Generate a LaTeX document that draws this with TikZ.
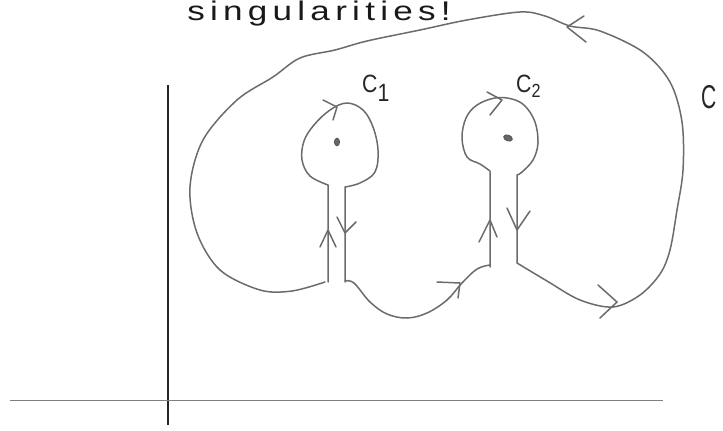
\documentclass[tikz,border=0pt]{standalone}
\usepackage{fontspec}
\setmainfont{Liberation Sans}

\tikzset{
  pencil/.style={draw=black!58, line width=1.5pt, line cap=round, line join=round},
  axisline/.style={draw=black!85, line width=1.4pt},
  baseline/.style={draw=black!50, line width=0.9pt},
  lbl/.style={font=\fontsize{25}{25}\selectfont, text=black!85, inner sep=0pt, xscale=0.85},
  sing/.style={fill=black!60, draw=black!70, line width=0.6pt}
}

\begin{document}
\begin{tikzpicture}[x=1pt, y=-1pt]
\useasboundingbox (0,0) rectangle (723,431);

% axes
\draw[axisline] (168,85) -- (168,425);
\draw[baseline] (10,400) -- (663,400);

% heading at the top edge
\node[anchor=base west, inner sep=0pt, xscale=1.3, text=black!90,
      font=\fontsize{27}{27}\selectfont\addfontfeature{LetterSpace=15}] (title) at (187,20) {singularities!};

% stem ends
\coordinate (ainL) at (328,282);
\coordinate (ainR) at (345,282);
\coordinate (binL) at (490,267);
\coordinate (binR) at (517,263);

% big contour C
\draw[pencil] plot[smooth, tension=0.55] coordinates {
  (517,263) (547,281) (580,300) (613,307) (640,295) (660,274) (670,250)
  (677,210) (683,170) (682,122) (670,82) (643,52) (600,31) (570,26)
  (545,16) (520,12) (467,20) (420,30) (367,41) (335,50) (300,58) (273,77)
  (237,100) (203,140) (190,187) (197,233) (220,270) (260,290) (292,291) (325,282)};

% keyhole round C_1
\draw[pencil] (ainL) -- (328,185)
  plot[smooth, tension=0.6] coordinates {
  (328,185) (310,176) (302,160) (304,141) (314,125) (330,110) (347,103)
  (363,110) (373,127) (378,150) (375,172) (360,183) (345,187)}
  -- (ainR);

% lower arc between the keyholes
\draw[pencil] plot[smooth, tension=0.6] coordinates {
  (345,281) (354,283) (370,302) (387,314) (407,318) (427,313) (447,300)
  (462,283) (477,269) (490,265)};

% keyhole round C_2
\draw[pencil] (binL) -- (490,172)
  plot[smooth, tension=0.6] coordinates {
  (490,171) (480,164) (467,157) (462,138) (466,118) (477,105) (495,98)
  (512,99) (525,106) (535,122) (538,143) (533,160) (522,172) (517,175)}
  -- (binR);

% singular points
\fill[sing] (337,142) ellipse [x radius=2.6, y radius=4];
\fill[sing, rotate around={-20:(508,138)}] (508,138) ellipse [x radius=4.6, y radius=3];

% chevrons on C
\draw[pencil] (584,16) -- (567,27) -- (586,42);
\draw[pencil] (598,285) -- (617,302) -- (600,318);
\draw[pencil] (437,282) -- (460,283) -- (458,298);
% chevrons on C_1
\draw[pencil] (323,100) -- (337,107) -- (333,120);
\draw[pencil] (320,247) -- (328,230) -- (336,247);
\draw[pencil] (337,217) -- (345,233) -- (356,222);
% chevrons on C_2
\draw[pencil] (487,92) -- (502,100) -- (490,115);
\draw[pencil] (479,242) -- (490,220) -- (497,237);
\draw[pencil] (507,208) -- (517,230) -- (530,211);

% labels
\node[lbl, anchor=base west] (cone) at (362,92) {C\raisebox{-9pt}{1}};
\node[lbl, anchor=base west] (ctwo) at (516,92) {C\raisebox{-5pt}{\fontsize{19}{19}\selectfont 2}};
\node[lbl, anchor=base west, font=\fontsize{33}{33}\selectfont, xscale=0.75] (cbig) at (701,108) {C};
\end{tikzpicture}
\end{document}
